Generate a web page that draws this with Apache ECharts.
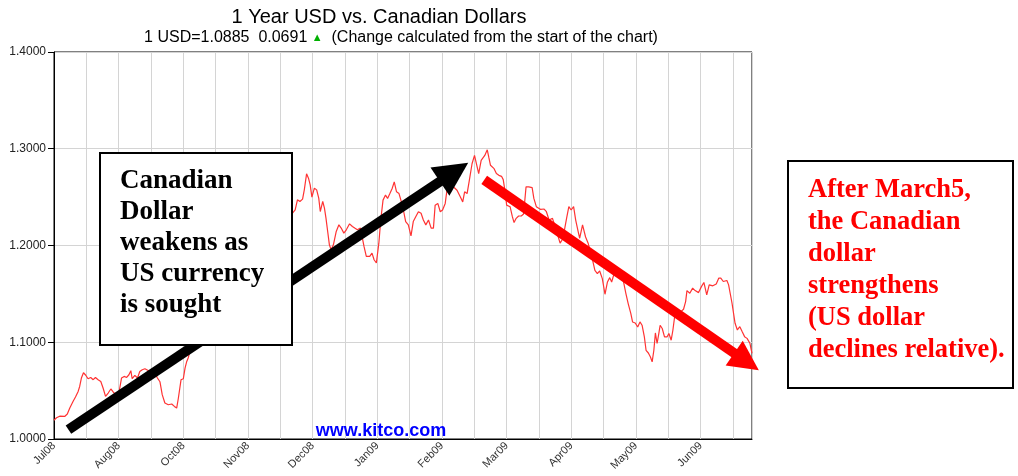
<!DOCTYPE html>
<html><head><meta charset="utf-8">
<script src="https://cdn.jsdelivr.net/npm/echarts@6/dist/echarts.min.js"></script>
<style>html,body{margin:0;padding:0;background:#fff}#c{width:1018px;height:476px}</style>
</head><body><div id="c"></div>
<script>
// ---- data ----
const tickLabels = ['Jul08','Aug08','Oct08','Nov08','Dec08','Jan09','Feb09','Mar09','Apr09','May09','Jun09'];
// days since the start of the chart (Jul 25 2008)
const dayOffsets = [
0,1.3,3.0,5.6,7.0,8.3,10.0,11.3,12.7,13.5,14.4,15.5,16.7,17.9,19.3,20.6,21.8,23.2,24.6,25.8,
27.1,28.5,29.9,31.1,32.5,34.1,35.5,36.9,38.2,39.4,40.4,41.1,42.5,43.9,45.1,46.4,47.8,48.7,50.7,53.1,
54.3,55.7,56.9,58.3,60.1,61.9,63.3,64.5,65.4,66.8,68.0,68.9,69.8,70.6,71.7,
73,74.5,76,77.5,79,81,83,85,87,89,91,93,95,97,99,101,103,105,107,109,111,113,115,117,119,121,123,
125.4,126.8,128.0,129.3,130.7,131.6,132.8,133.8,134.7,135.6,136.9,138.1,139.2,140.0,141.3,142.2,143.0,143.9,144.8,145.7,
146.9,148.4,149.8,151.0,152.4,153.7,155.4,156.9,158.1,159.5,161.1,163.0,164.2,166.0,167.2,168.3,169.5,170.8,171.8,173.0,
174.3,175.4,176.6,177.8,178.9,180.1,181.4,182.4,183.7,184.9,186.3,187.7,188.9,190.2,191.6,193.0,194.2,195.5,196.9,198.3,
199.5,200.4,201.8,203.1,204.3,205.7,206.6,208.4,210.1,211.9,213.6,214.9,215.9,217.2,218.4,219.8,221.1,222.1,223.3,224.6,
225.6,226.5,227.8,228.6,229.5,231.4,232.6,233.9,235.3,236.2,237.2,238.0,239.8,241.0,241.9,243.0,244.3,245.7,246.9,248.2,
249.6,251.4,252.3,253.6,255.9,257.7,258.9,260.3,262.1,263.5,264.8,266.1,267.2,268.4,269.6,270.7,271.9,273.2,274.3,275.6,
276.4,277.9,279.5,280.9,283.0,284.4,285.7,286.9,288.3,289.7,291.0,292.2,293.2,294.5,295.8,296.8,298.1,299.3,300.7,301.9,
303.3,304.2,305.6,306.9,308.1,309.2,310.4,311.3,312.5,313.6,314.5,315.4,316.2,317.1,318.0,318.7,319.8,321.0,322.3,323.3,
324.5,325.4,326.3,327.2,329.6,331.0,332.1,332.8,334.3,335.8,337.1,338.9,340.4,341.7,343.2,344.5,346.4,348.2,349.5,350.6,
351.9,353.8,354.7,356.5,358.1,359.3,360.6,361.8,363.1,364.4,365.9,367.0
];
// USD in Canadian dollars
const rates = [
1.0194,1.0220,1.0236,1.0233,1.0258,1.0320,1.0388,1.0434,1.0492,1.0543,1.0630,1.0685,1.0659,1.0623,1.0636,1.0613,1.0636,1.0613,1.0595,1.0527,
1.0440,1.0475,1.0517,1.0486,1.0458,1.0473,1.0630,1.0647,1.0636,1.0664,1.0706,1.0623,1.0657,1.0630,1.0698,1.0716,1.0726,1.0733,1.0695,1.0685,
1.0633,1.0592,1.0458,1.0372,1.0354,1.0362,1.0337,1.0320,1.0424,1.0613,1.0623,1.0733,1.0802,1.0840,1.0923,
1.105,1.125,1.150,1.170,1.160,1.145,1.165,1.170,1.180,1.205,1.235,1.265,1.290,1.255,1.215,1.190,1.165,1.175,1.185,1.170,1.200,1.215,1.235,1.265,1.280,1.255,1.240,
1.2335,1.2369,1.2472,1.2455,1.2479,1.2575,1.2741,1.2696,1.2627,1.2500,1.2593,1.2575,1.2490,1.2351,1.2455,1.2386,1.2283,1.2145,1.2007,1.1956,
1.2007,1.2145,1.2214,1.2180,1.2128,1.2162,1.2224,1.2196,1.2180,1.2162,1.2180,1.1990,1.1887,1.1887,1.1921,1.1853,1.1819,1.2024,1.2263,1.2469,
1.2521,1.2487,1.2537,1.2589,1.2657,1.2555,1.2537,1.2469,1.2367,1.2247,1.2213,1.2099,1.2247,1.2298,1.2349,1.2333,1.2263,1.2213,1.2263,1.2179,
1.2179,1.2417,1.2435,1.2349,1.2367,1.2435,1.2571,1.2640,1.2605,1.2571,1.2503,1.2451,1.2555,1.2537,1.2675,1.2845,1.2931,1.2913,1.2743,1.2879,
1.2897,1.2931,1.2989,1.2913,1.2829,1.2794,1.2743,1.2725,1.2715,1.2681,1.2555,1.2417,1.2401,1.2298,1.2237,1.2281,1.2305,1.2305,1.2325,1.2606,
1.2606,1.2599,1.2487,1.2401,1.2373,1.2377,1.2349,1.2263,1.2281,1.2195,1.2110,1.2025,1.2059,1.2161,1.2291,1.2401,1.2367,1.2401,1.2263,1.2144,
1.2075,1.2213,1.2088,1.2020,1.1865,1.1744,1.1710,1.1737,1.1658,1.1496,1.1623,1.1668,1.1623,1.1710,1.1761,1.1768,1.1728,1.1640,1.1503,1.1400,
1.1296,1.1210,1.1199,1.1158,1.1210,1.1176,1.1055,1.0917,1.0889,1.0848,1.0797,1.0917,1.1096,1.0987,1.1090,1.1176,1.1142,1.1055,1.1055,1.1090,
1.1021,1.1124,1.1261,1.1331,1.1317,1.1341,1.1420,1.1534,1.1507,1.1559,1.1534,1.1513,1.1575,1.1618,1.1490,1.1593,1.1583,1.1603,1.1662,1.1662,
1.1628,1.1638,1.1593,1.1403,1.1196,1.1127,1.1161,1.1110,1.1058,1.1040,1.0989,1.0885
];
const titleText = '1 Year USD vs. Canadian Dollars';
const lastRate = '1.0885';
const changeText = '0.0691';
const noteText = '(Change calculated from the start of the chart)';
const watermark = 'www.kitco.com';
const leftNote = ['Canadian','Dollar','weakens as','US currency','is sought'];
const rightNote = ['After March5,','the Canadian','dollar','strengthens','(US dollar','declines relative).'];
// annotation arrows, in data coordinates [day, rate]
const blackArrow = [[7.6, 1.0096], [217.8, 1.2856]];
const redArrow = [[226.2, 1.2679], [370.6, 1.0711]];

const chart = echarts.init(document.getElementById('c'), null, {renderer: 'canvas'});
const SANS = '"Liberation Sans", Arial, sans-serif';
const SERIF = '"Liberation Serif", "Times New Roman", serif';

chart.setOption({
  animation: false,
  backgroundColor: '#ffffff',
  textStyle: {fontFamily: SANS},
  grid: {left: 54, right: 266, top: 52, bottom: 37, show: true, borderColor: '#000', borderWidth: 1, backgroundColor: 'transparent'},
  xAxis: {
    type: 'value', min: 0, max: 367, interval: 17,
    axisLine: {show: true, onZero: false, lineStyle: {color: '#000', width: 1}},
    axisTick: {show: false},
    splitLine: {show: true, lineStyle: {color: '#d4d4d4', width: 1}},
    axisLabel: {
      rotate: 45, fontSize: 11, color: '#333', margin: 5, fontFamily: SANS,
      showMaxLabel: false,
      formatter: function (v) {
        const k = Math.round(v / 17);
        if (Math.abs(v - k * 17) > 1e-6 || k % 2 !== 0) return '';
        return tickLabels[k / 2] || '';
      }
    }
  },
  yAxis: {
    type: 'value', min: 1.0, max: 1.4, interval: 0.1,
    axisLine: {show: true, lineStyle: {color: '#000', width: 1}},
    axisTick: {show: true, length: 6, lineStyle: {color: '#000'}},
    splitLine: {show: true, lineStyle: {color: '#d4d4d4', width: 1}},
    axisLabel: {formatter: v => v.toFixed(4), fontSize: 12, color: '#222', margin: 8, fontFamily: SANS}
  },
  series: [{
    type: 'line', symbol: 'none', showSymbol: false, z: 2,
    data: dayOffsets.map((d, i) => [d, rates[i]]),
    lineStyle: {color: '#ff3333', width: 1.2}
  }]
});

function arrowEls(pts, color, width, headLen, headHalf, z) {
  const p0 = chart.convertToPixel({gridIndex: 0}, pts[0]);
  const p1 = chart.convertToPixel({gridIndex: 0}, pts[1]);
  const dx = p1[0] - p0[0], dy = p1[1] - p0[1];
  const L = Math.sqrt(dx * dx + dy * dy);
  const ux = dx / L, uy = dy / L, px = -uy, py = ux;
  const bx = p1[0] - ux * headLen, by = p1[1] - uy * headLen;
  return [
    {type: 'line', z: z, silent: true,
     shape: {x1: p0[0], y1: p0[1], x2: bx + ux * 2, y2: by + uy * 2},
     style: {stroke: color, lineWidth: width, lineCap: 'butt'}},
    {type: 'polygon', z: z, silent: true,
     shape: {points: [[p1[0], p1[1]], [bx + px * headHalf, by + py * headHalf], [bx - px * headHalf, by - py * headHalf]]},
     style: {fill: color}}
  ];
}

const graphics = [].concat(
  [
    {type: 'text', x: 379, y: 7, z: 10, silent: true,
     style: {text: titleText, font: '20px ' + SANS, fill: '#000', textAlign: 'center', textVerticalAlign: 'top', align: 'center', verticalAlign: 'top'}},
    {type: 'text', x: 401, y: 30, z: 10, silent: true,
     style: {
       text: '{a|1 USD=' + lastRate + '  ' + changeText + ' }{g|▲}{a|  ' + noteText + '}',
       font: '16px ' + SANS, fill: '#000', textAlign: 'center', textVerticalAlign: 'top', align: 'center', verticalAlign: 'top',
       rich: {a: {font: '16px ' + SANS, fill: '#000'}, g: {font: '11px ' + SANS, fill: '#00b000'}}
     }},
    {type: 'text', x: 381, y: 431, z: 10, silent: true,
     style: {text: watermark, font: 'bold 18px ' + SANS, fill: '#0000ff', textAlign: 'center', textVerticalAlign: 'middle', align: 'center', verticalAlign: 'middle'}}
  ],
  arrowEls(blackArrow, '#000000', 10, 34, 17, 20),
  arrowEls(redArrow, '#ff0000', 10, 30, 15, 20),
  [
    {type: 'rect', z: 30, silent: true, shape: {x: 100, y: 153, width: 192, height: 192},
     style: {fill: '#fff', stroke: '#000', lineWidth: 2}},
    {type: 'text', z: 31, silent: true, x: 120, y: 166,
     style: {text: leftNote.join('\n'), font: 'bold 27px ' + SERIF, fill: '#000', lineHeight: 31, textVerticalAlign: 'top', verticalAlign: 'top'}},
    {type: 'rect', z: 30, silent: true, shape: {x: 788, y: 161, width: 225, height: 227},
     style: {fill: '#fff', stroke: '#000', lineWidth: 2}},
    {type: 'text', z: 31, silent: true, x: 808, y: 174,
     style: {text: rightNote.join('\n'), font: 'bold 26.5px ' + SERIF, fill: '#ff0000', lineHeight: 32, textVerticalAlign: 'top', verticalAlign: 'top'}}
  ]
);
chart.setOption({graphic: graphics});
</script>
</body></html>
